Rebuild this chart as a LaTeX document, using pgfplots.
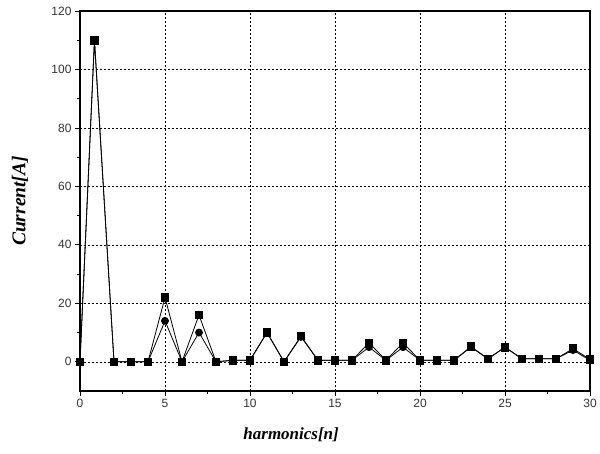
\documentclass[border=0pt]{standalone}
\usepackage{fontspec}
\setmainfont{Liberation Serif}
\newfontfamily\ticksans{Liberation Sans}
\usepackage{pgfplots}
\pgfplotsset{compat=1.18}

\begin{document}
\begin{tikzpicture}
\begin{axis}[
    scale only axis,
    width=510pt, height=380pt,
    xmin=0, xmax=30,
    ymin=-10, ymax=120,
    xtick={0,5,...,30},
    ytick={0,20,...,120},
    minor x tick num=1,
    minor y tick num=1,
    tick align=outside,
    xtick pos=bottom, ytick pos=left,
    major tick length=5pt, minor tick length=3pt,
    tick style={black, line width=0.8pt},
    axis line style={black, line width=1.2pt},
    grid=major,
    grid style={black, line width=0.5pt, dash pattern=on 2pt off 2pt},
    ticklabel style={font=\ticksans\fontsize{12}{14}\selectfont, text=black!80},
    /pgf/number format/assume math mode=true,
    xlabel={\fontsize{17}{19}\selectfont\bfseries\itshape harmonics[n]},
    ylabel={\fontsize{19.5}{21}\selectfont\bfseries\itshape Current[A]},
    xlabel style={at={(axis description cs:0.414,-0.116)}, anchor=center},
    ylabel style={at={(axis description cs:-0.118,0.5)}, anchor=center},
]
\addplot[black, line width=0.8pt, mark=square*, mark size=3.8pt] coordinates {
    (0,0)(0.85,110)(2,0)(3,0)(4,0)(5,22)(6,0)(7,16)(8,0)(9,0.5)(10,0.5)
    (11,10)(12,0)(13,8.8)(14,0.5)(15,0.5)(16,0.5)(17,6.5)(18,0.5)(19,6.5)
    (20,0.5)(21,0.5)(22,0.5)(23,5.2)(24,1)(25,5)(26,1)(27,1)(28,1)(29,4.5)(30,0.8)
};
\addplot[black, line width=0.8pt, mark=*, mark size=3.5pt] coordinates {
    (0,0)(0.85,110)(2,0)(3,0)(4,0)(5,14)(6,0)(7,10)(8,0)(9,0.5)(10,0.5)
    (11,10)(12,0)(13,8.5)(14,0.5)(15,0.5)(16,0.5)(17,5)(18,0.5)(19,5)
    (20,0.5)(21,0.5)(22,0.5)(23,5)(24,1)(25,5)(26,1)(27,1)(28,1)(29,4)(30,0.5)
};
\end{axis}
\path (current axis.south west) ++(-80pt,-63pt) rectangle ([shift={(10pt,11pt)}]current axis.north east);
\end{tikzpicture}
\end{document}
